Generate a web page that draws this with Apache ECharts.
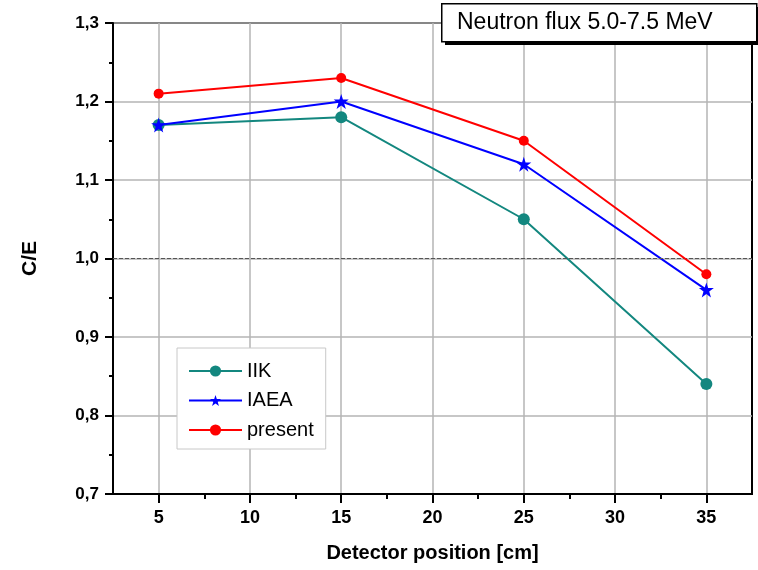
<!DOCTYPE html>
<html>
<head>
<meta charset="utf-8">
<script src="https://cdn.jsdelivr.net/npm/echarts@6/dist/echarts.min.js"></script>
<style>
  html, body { margin: 0; padding: 0; background: #fff; }
  #chart { width: 758px; height: 570px; }
</style>
</head>
<body>
<div id="chart"></div>
<script>
// detector positions [cm]
const positions = [5, 15, 25, 35];
// C/E values per data set
const iikValues = [1.17, 1.18, 1.05, 0.84];
const iaeaValues = [1.17, 1.20, 1.12, 0.96];
const presentValues = [1.21, 1.23, 1.15, 0.98];
// axis ticks
const xMajorTicks = [5, 10, 15, 20, 25, 30, 35];
const xMinorTicks = [7.5, 12.5, 17.5, 22.5, 27.5, 32.5];
const referenceLevel = 1.0;

const font = 'Liberation Sans, Arial, sans-serif';

function pairs(values) {
  return positions.map((x, i) => [x, values[i]]);
}

const chart = echarts.init(document.getElementById('chart'));

chart.setOption({
  animation: false,
  textStyle: { fontFamily: font },
  title: {
    text: 'Neutron flux 5.0-7.5 MeV',
    left: 457,
    top: 11,
    padding: 0,
    textStyle: { fontFamily: font, fontSize: 23, fontWeight: 'normal', color: '#000' }
  },
  // framed title box with a drop shadow
  graphic: [
    { type: 'rect', left: 445, top: 7, z: 1, shape: { width: 315, height: 38 }, style: { fill: '#000' } },
    { type: 'rect', left: 441, top: 3, z: 2, shape: { width: 315, height: 38 }, style: { fill: '#fff', stroke: '#000', lineWidth: 1.5 } }
  ],
  legend: {
    orient: 'vertical',
    left: 177,
    top: 348,
    padding: [13, 12, 9, 11],
    itemWidth: 53,
    itemHeight: 14,
    itemGap: 9.5,
    backgroundColor: '#fff',
    borderColor: '#c8c8c8',
    borderWidth: 1,
    textStyle: { fontFamily: font, fontSize: 20, color: '#000' },
    data: ['IIK', 'IAEA', 'present']
  },
  grid: {
    left: 113,
    right: 6,
    top: 23,
    bottom: 76,
    show: true,
    borderColor: '#000',
    borderWidth: 2,
    containLabel: false
  },
  xAxis: [
    {
      type: 'value',
      min: 2.5,
      max: 37.5,
      name: 'Detector position [cm]',
      nameLocation: 'middle',
      nameGap: 49,
      nameTextStyle: { fontFamily: font, fontSize: 20, fontWeight: 'bold', color: '#000' },
      axisLine: { show: true, onZero: false, lineStyle: { color: '#000', width: 2 } },
      axisTick: { show: true, inside: false, length: 9, customValues: xMajorTicks, lineStyle: { color: '#000', width: 2 } },
      axisLabel: { customValues: xMajorTicks, margin: 15, fontFamily: font, fontSize: 18, fontWeight: 'bold', color: '#000' },
      splitLine: { show: true, lineStyle: { color: '#b4b4b4', width: 1.5 } }
    },
    {
      type: 'value',
      min: 2.5,
      max: 37.5,
      position: 'bottom',
      axisLine: { show: false },
      axisTick: { show: true, inside: false, length: 5, customValues: xMinorTicks, lineStyle: { color: '#000', width: 2 } },
      axisLabel: { show: false },
      splitLine: { show: false }
    }
  ],
  yAxis: {
    type: 'value',
    min: 0.7,
    max: 1.3,
    interval: 0.1,
    name: 'C/E',
    nameLocation: 'middle',
    nameGap: 72,
    nameTextStyle: { fontFamily: font, fontSize: 21, fontWeight: 'bold', color: '#000' },
    axisLine: { show: true, onZero: false, lineStyle: { color: '#000', width: 2 } },
    axisTick: { show: true, inside: false, length: 8, lineStyle: { color: '#000', width: 2 } },
    minorTick: { show: true, splitNumber: 2, length: 4, lineStyle: { color: '#000', width: 2 } },
    axisLabel: {
      margin: 14,
      fontFamily: font,
      fontSize: 17,
      fontWeight: 'bold',
      color: '#000',
      formatter: v => v.toFixed(1).replace('.', ',')
    },
    splitLine: { show: true, lineStyle: { color: '#b4b4b4', width: 1.5 } }
  },
  series: [
    {
      name: 'IIK',
      type: 'line',
      data: pairs(iikValues),
      symbol: 'circle',
      symbolSize: 12,
      color: '#13877f',
      lineStyle: { width: 2 },
      z: 3,
      markLine: {
        silent: true,
        symbol: 'none',
        label: { show: false },
        lineStyle: { color: '#555', width: 1, type: [4, 2] },
        data: [{ yAxis: referenceLevel }]
      }
    },
    {
      name: 'IAEA',
      type: 'line',
      data: pairs(iaeaValues),
      symbol: 'path://M12,0 L14.8,8.6 L24,8.6 L16.6,14 L19.4,23 L12,17.6 L4.6,23 L7.4,14 L0,8.6 L9.2,8.6 Z',
      symbolSize: 15,
      color: '#0000ff',
      lineStyle: { width: 2 },
      z: 4
    },
    {
      name: 'present',
      type: 'line',
      data: pairs(presentValues),
      symbol: 'circle',
      symbolSize: 10,
      color: '#ff0000',
      lineStyle: { width: 2 },
      z: 5
    }
  ]
});
</script>
</body>
</html>
